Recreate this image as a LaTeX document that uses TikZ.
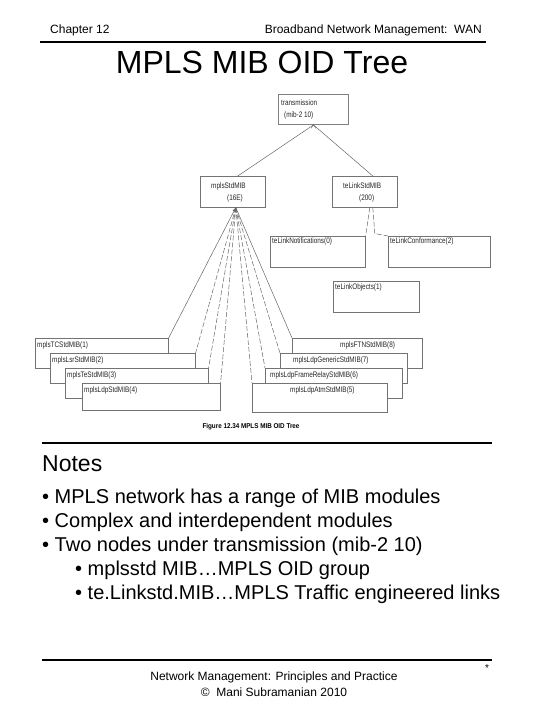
\documentclass[tikz,border=0pt]{standalone}
\usepackage{fontspec}
\setmainfont{Liberation Sans}
\newfontfamily\figfont[FakeStretch=0.8]{Liberation Sans}
\newfontfamily\capfont[FakeStretch=0.9]{Liberation Sans}
\usetikzlibrary{arrows.meta}
\begin{document}
\begin{tikzpicture}[x=1pt,y=-1pt,
  mib/.style={draw=black!55, line width=0.6pt, fill=white, inner sep=0pt, anchor=north west},
  lbl/.style={font=\figfont\fontsize{8}{9}\selectfont, text=black!85, inner sep=0pt, anchor=west},
  wire/.style={draw=black!60, line width=0.5pt},
  dwire/.style={wire, dash pattern=on 5pt off 2pt},
  rulebar/.style={line width=1.6pt},
  hdr/.style={font=\fontsize{12}{14}\selectfont, inner sep=0pt, anchor=base west},
  bul/.style={font=\fontsize{20}{24}\selectfont, inner sep=0pt, anchor=base west},
]
\useasboundingbox (0,0) rectangle (540,720);
\fill[white] (0,0) rectangle (540,720);

% header
\node[hdr] (chap) at (50,33) {Chapter 12};
\node[hdr, anchor=base east] (hright) at (482,33) {Broadband Network Management:\ \ WAN};
\coordinate (hl1) at (40,42); \coordinate (hl2) at (486,42);
\draw[rulebar] (hl1) -- (hl2);
\node[font=\fontsize{32}{36}\selectfont, inner sep=0pt, anchor=base] (title) at (262,73) {MPLS MIB OID Tree};

% top tree
\node[mib, minimum width=70pt, minimum height=30pt, draw=black!50, line width=0.9pt] (tr) at (278,94) {};
\node[lbl] (trt1) at (281,103) {transmission};
\node[lbl] (trt2) at (284,115) {(mib-2 10)};

\node[mib, minimum width=65pt, minimum height=31pt] (mpls) at (200,176) {};
\node[lbl] (mplst1) at (211,186) {mplsStdMIB};
\node[lbl] (mplst2) at (227,198) {(16E)};

\node[mib, minimum width=65pt, minimum height=31pt] (te) at (332,176) {};
\node[lbl] (tet1) at (343,186) {teLinkStdMIB};
\node[lbl] (tet2) at (359,198) {(200)};

\draw[wire] (tr.south) -- ([xshift=5pt]mpls.north);
\draw[wire] (tr.south) -- ([xshift=8pt]te.north);
\draw[wire, line width=0.4pt] ([xshift=-2.5pt,yshift=-3.5pt]tr.south) -- (tr.south) -- ([xshift=2.5pt,yshift=-3.5pt]tr.south);

\node[mib, minimum width=95pt, minimum height=31pt] (notif) at (270,236) {};
\node[lbl] (notift) at (272,241) {teLinkNotifications(0)};
\node[mib, minimum width=102pt, minimum height=31pt] (conf) at (388,236) {};
\node[lbl] (conft) at (390,241) {teLinkConformance(2)};
\node[mib, minimum width=86pt, minimum height=31pt] (obj) at (333,281) {};
\node[lbl] (objt) at (335,287) {teLinkObjects(1)};

\draw[dwire] ([xshift=5pt]te.south) -- (notif.north east);
\draw[dwire] ([xshift=8pt]te.south) -- ++(2,26) -- (conf.north west);

% fan apex
\coordinate (apex) at ([xshift=3pt]mpls.south);

% left stack
\node[mib, minimum width=133pt, minimum height=30pt] (b1) at (35,338) {};
\node[lbl] (b1t) at (37,345) {mplsTCStdMIB(1)};
\node[mib, minimum width=145pt, minimum height=30pt] (b2) at (50,353) {};
\node[lbl] (b2t) at (52,360) {mplsLsrStdMIB(2)};
\node[mib, minimum width=143pt, minimum height=30pt] (b3) at (65,368) {};
\node[lbl] (b3t) at (67,375) {mplsTeStdMIB(3)};
\node[mib, minimum width=138pt, minimum height=27pt] (b4) at (82,383) {};
\node[lbl] (b4t) at (84,390) {mplsLdpStdMIB(4)};

% right stack
\node[mib, minimum width=130pt, minimum height=30pt] (b8) at (292,338) {};
\node[lbl] (b8t) at (340,345) {mplsFTNStdMIB(8)};
\node[mib, minimum width=127pt, minimum height=30pt] (b7) at (280,353) {};
\node[lbl] (b7t) at (293,360) {mplsLdpGenericStdMIB(7)};
\node[mib, minimum width=137pt, minimum height=30pt] (b6) at (265,368) {};
\node[lbl] (b6t) at (270,375) {mplsLdpFrameRelayStdMIB(6)};
\node[mib, minimum width=135pt, minimum height=29pt] (b5) at (252,383) {};
\node[lbl] (b5t) at (290,390) {mplsLdpAtmStdMIB(5)};

% fan lines
\draw[wire, {Latex[length=4pt,width=3pt]}-] (apex) -- (b1.north east);
\draw[dwire] (apex) -- (b2.north east);
\draw[dwire] (apex) -- (b3.north east);
\draw[dwire] (apex) -- (b4.north east);
\draw[wire] (apex) -- (b8.north west);
\draw[dwire] (apex) -- (b7.north west);
\draw[dwire] (apex) -- (b6.north west);
\draw[dwire] (apex) -- (b5.north west);

\node[font=\capfont\bfseries\fontsize{7}{8}\selectfont, inner sep=0pt] (cap) at (251,427) {Figure 12.34 MPLS MIB OID Tree};

% notes
\coordinate (nl1) at (42,443); \coordinate (nl2) at (492,443);
\draw[rulebar] (nl1) -- (nl2);
\node[font=\fontsize{23}{26}\selectfont, inner sep=0pt, anchor=base west] (notes) at (42,471) {Notes};
\node[bul] (l1) at (42,503) {• MPLS network has a range of MIB modules};
\node[bul] (l2) at (42,527) {• Complex and interdependent modules};
\node[bul] (l3) at (42,551) {• Two nodes under transmission (mib-2 10)};
\node[bul] (l4) at (75,575) {• mplsstd MIB…MPLS OID group};
\node[bul] (l5) at (75,599) {• te.Linkstd.MIB…MPLS Traffic engineered links};

% footer
\coordinate (fl1) at (42,660); \coordinate (fl2) at (492,660);
\draw[rulebar] (fl1) -- (fl2);
\node[font=\fontsize{10}{12}\selectfont, inner sep=0pt] (star) at (487,668) {*};
\node[hdr, anchor=base] (f1) at (274,680) {Network Management: Principles and Practice};
\node[hdr, anchor=base] (f2) at (274,696) {©\ \ Mani Subramanian 2010};
\end{tikzpicture}
\end{document}
